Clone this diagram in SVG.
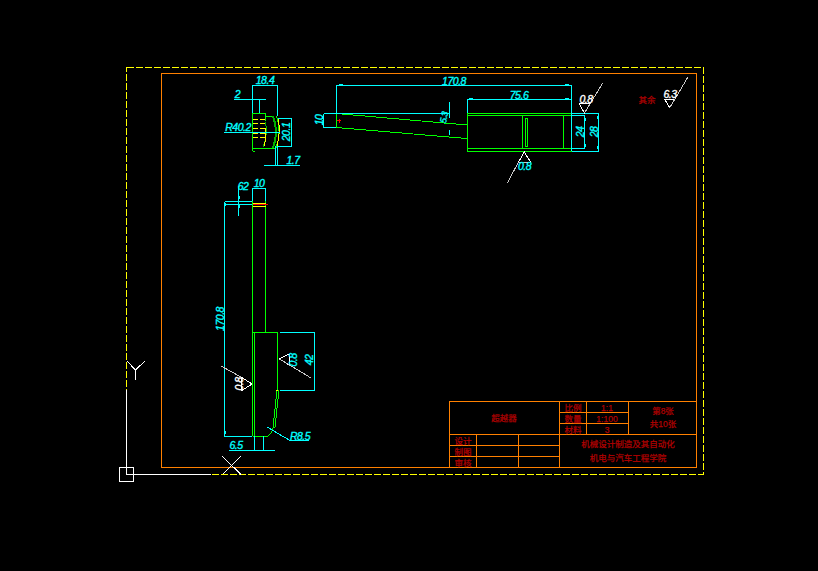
<svg xmlns="http://www.w3.org/2000/svg" width="818" height="571" viewBox="0 0 818 571">
<style>
path,rect{shape-rendering:crispEdges}
.o{fill:none;stroke:#ff8000;stroke-width:1}
.y{fill:none;stroke:#ffff00;stroke-width:1}
.g{fill:none;stroke:#00ff00;stroke-width:1}
.c{fill:none;stroke:#00ffff;stroke-width:1}
.k{fill:none;stroke:#00ffff;stroke-width:2}
.w{fill:none;stroke:#ffffff;stroke-width:1}
.s{fill:none;stroke:#c8c8c8;stroke-width:1}
.r{fill:none;stroke:#ff0000;stroke-width:1}
text{font-family:"Liberation Sans","Noto Sans CJK SC",sans-serif;text-anchor:middle}
.d{fill:#00ffff;stroke:#00ffff;stroke-width:.35;font-size:10.500px;letter-spacing:-.5px;font-style:italic}
.t{fill:#ffffff;stroke:#ffffff;stroke-width:.35;font-size:10.500px;letter-spacing:-.5px;font-style:italic}
.z{fill:#b00000;stroke:#b00000;stroke-width:.25;font-size:8.500px}
</style>
<rect width="818" height="571" fill="#000"/>
<g id="frame">
<rect class="y" x="126.5" y="67.5" width="576.5" height="406.5" stroke-dasharray="7 2"/>
<rect class="o" x="161.5" y="73.5" width="535" height="394"/>
</g>
<g id="ucs">
<path class="w" d="M126.5 390V474.500H211M119.500 467.500H133.500V481H119.500ZM127 361L135.500 370L145 361M135.500 370V380M222 456L241 474.500M241 456L222.500 474.500"/>
</g>
<g id="view-side">
<path class="g" d="M252.500 151V113.500H265.500V121M252.500 148.500H275M265.500 116H273M255 151H252.500"/>
<path d="M273 116Q279 132 273 148" fill="none" stroke="#00b000" stroke-width="2"/>
<path d="M276.500 116Q282 132 276 148" fill="none" stroke="#00ff00"/>
<path d="M265.500 122Q268 134 263 147" fill="none" stroke="#00b000"/>
<path class="y" d="M253 119.500H266M253 123.500H266M253 128.500H266M253 133.500H266M253 137.500H266" stroke-dasharray="5 2"/>
<path class="y" d="M266 128Q266 140 264 146M278 118Q281 132 277 146"/>
</g>
<g id="view-top">
<path class="g" d="M336 113.500L467 125M336 127.500L467 138.500M336.500 113.500V127.500"/>
<rect class="g" x="467.500" y="113.500" width="104" height="38"/>
<path class="g" d="M467.500 115.500H571.500M467.500 148.500H571.500M522.500 115.500V148.500M563.500 115.500V148.500"/>
<rect class="g" x="525.500" y="118.500" width="2" height="28"/>
<path class="r" d="M336.500 120.500H341M339.500 118.500V123"/>
</g>
<g id="view-front">
<path class="g" d="M252.500 201V436M265.500 201V332.500M252.500 332.500H278M254.500 332.500V436M277.500 332.500V390M252.500 436H268M268 436Q272 433 273 428L277 390M273 428L275 427L279 390"/>
<path class="y" d="M253 203.500H266M253 206.500H266"/>
<path class="r" d="M253 204.500H268"/>
<path class="y" d="M275.500 390.500H278"/>
</g>
<g id="connectors">
<path class="c" d="M252.500 113V85.500H277.500V116M234 99.500H266M259.500 99.500V113M224 132.500H280M278 118.500H291.500V146.500H278M275.500 146V165M277.500 146V165M264 165.500H300"/>
<path class="c" d="M336.500 113V85.500H571.500V151M323.500 113.500H450M323.500 113.500V127.500H336M449.500 102V118M449.500 130V135M467.500 113V99.500H571.500"/>
<path class="c" d="M571.500 113.500H598.500V151.500H571.500M571.500 115.500H584.500V148.500H571.500"/>
<path class="c" d="M252.500 201V188.500H265.500V201M224.500 201.500H252M224.500 201.500V436.500H252M238.500 186V216M224.500 204.500H252"/>
<path class="c" d="M279.500 332.500H314.500V390.500H279.500"/>
<path class="c" d="M254.500 436V450M263.500 436V450M229 450.500H275M267 427L290 440.500H309"/>
<path class="k" d="M339 85H343M469 99H473M565 85H569M565 99H569M585 118V121M585 144V147M598 116V119M598 146V149M224.500 203V206M224.500 431V434M238.500 196V199M238.500 205V208M323 116V119M323 122V125"/>
</g>
<g id="roughness">
<path class="w" d="M579 103.500L584.500 113L590 103.500H579"/>
<path class="s" d="M584.500 113L602.700 83"/>
<path class="w" d="M664.500 99L669.700 107.700L675 99H664.500"/>
<path class="s" d="M669.700 107.700L688 77"/>
<path class="w" d="M518.500 162L524.300 152L530.500 162"/>
<path class="s" d="M518.500 162L507.300 183M518.500 162H530.500"/>
<path class="w" d="M289 354L279.500 359L289 365V354"/>
<path class="s" d="M279.500 359L311 378"/>
<path class="w" d="M241 377L252 384L241 391V377"/>
<path class="s" d="M221 366L241 377"/>
</g>
<g id="dimensions">
<text class="d" x="265" y="84">18.4</text>
<text class="d" x="237.500" y="98">2</text>
<text class="d" x="238" y="131">R40.2</text>
<text class="d" transform="translate(290 132) rotate(-90)">20.1</text>
<text class="d" x="293" y="164">1.7</text>
<text class="d" x="454" y="85">170.8</text>
<text class="d" transform="translate(323 120) rotate(-90)">10</text>
<text class="d" transform="translate(447 118) rotate(-80)" style="font-size:9px">5.3</text>
<text class="d" x="519" y="99">75.6</text>
<text class="d" transform="translate(584 132) rotate(-90)">24</text>
<text class="d" transform="translate(598 132) rotate(-90)">28</text>
<text class="d" x="524.500" y="170">0.8</text>
<text class="d" x="243" y="190">62</text>
<text class="d" x="259" y="187">10</text>
<text class="d" transform="translate(224 319) rotate(-90)">170.8</text>
<text class="d" transform="translate(297 360) rotate(-90)">0.8</text>
<text class="d" transform="translate(313 360) rotate(-90)">42</text>
<text class="d" x="236" y="449">6.5</text>
<text class="d" x="300" y="440">R8.5</text>
<text class="t" x="586" y="103">0.8</text>
<text class="t" x="670" y="98">6.3</text>
<text class="t" transform="translate(243 384) rotate(-90)">0.8</text>
<text class="z" x="647" y="103">其余</text>
</g>
<g id="title-block">
<path class="o" d="M449.500 401.500H696.500V467.500H449.500ZM449.500 434.500H696.500M559.500 401.500V467.500M449.500 445.500H559.500M449.500 456.500H559.500M476.500 434.500V467.500M518.500 434.500V467.500M559.500 412.500H628.500M559.500 423.500H628.500M586.500 401.500V434.500M628.500 401.500V434.500"/>
<text class="z" x="504" y="421">超越器</text>
<text class="z" x="573" y="411">比例</text>
<text class="z" x="573" y="422">数量</text>
<text class="z" x="573" y="433">材料</text>
<text class="z" x="607" y="411">1:1</text>
<text class="z" x="607" y="422">1:100</text>
<text class="z" x="607" y="433">3</text>
<text class="z" x="663" y="414">第8张</text>
<text class="z" x="663" y="427">共10张</text>
<text class="z" x="463" y="444">设计</text>
<text class="z" x="463" y="455">制图</text>
<text class="z" x="463" y="466">审核</text>
<text class="z" x="628" y="447">机械设计制造及其自动化</text>
<text class="z" x="628" y="461">机电与汽车工程学院</text>
</g>
</svg>
